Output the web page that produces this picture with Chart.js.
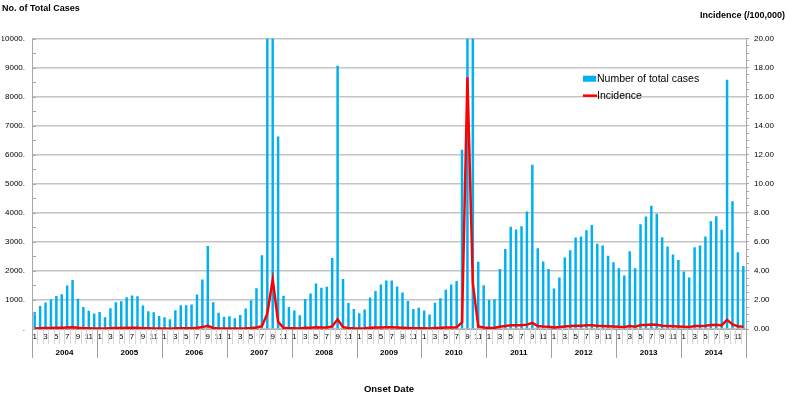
<!DOCTYPE html>
<html>
<head>
<meta charset="utf-8">
<script src="https://cdn.jsdelivr.net/npm/chart.js@4.4.1/dist/chart.umd.min.js"></script>
<style>
  html, body { margin: 0; padding: 0; background: #fff; }
</style>
</head>
<body>
<canvas id="grafico" width="787" height="395"></canvas>
<script>
// dados (mensal, 2004 a 2014)
var anos = ['2004', '2005', '2006', '2007', '2008', '2009', '2010', '2011', '2012', '2013', '2014'];
var meses = ['1', '2', '3', '4', '5', '6', '7', '8', '9', '10', '11', '12'];
var rotulosMes = ['1', '', '3', '', '5', '', '7', '', '9', '', '11', ''];

// número total de casos (barras)
var casos = [
  585, 790, 910, 1015, 1135, 1195, 1500, 1685, 1040, 755, 625, 530,      // 2004
  587, 402, 718, 920, 955, 1098, 1155, 1127, 810, 615, 575, 450,         // 2005
  402, 340, 650, 822, 822, 840, 1190, 1707, 2862, 920, 563, 420,         // 2006
  443, 368, 483, 702, 990, 1402, 2540, 14300, 46300, 6634, 1145, 760,    // 2007
  638, 472, 1035, 1225, 1570, 1420, 1455, 2445, 9070, 1725, 897, 685,    // 2008
  546, 673, 1086, 1310, 1530, 1667, 1667, 1460, 1260, 966, 690, 736,     // 2009
  638, 500, 903, 1058, 1356, 1529, 1655, 6175, 236000, 43000, 2320, 1506, // 2010
  1000, 1023, 2070, 2760, 3519, 3427, 3542, 4048, 5658, 2783, 2323, 2070, // 2011
  1392, 1771, 2461, 2714, 3150, 3185, 3398, 3582, 2938, 2874, 2519, 2300, // 2012
  2093, 1840, 2680, 2093, 3611, 3875, 4243, 3967, 3162, 2841, 2564, 2380, // 2013
  1978, 1771, 2817, 2875, 3185, 3715, 3887, 3415, 8590, 4404, 2645, 2173  // 2014
];

// incidência (/100.000) - linha vermelha
var incidencia = [
  0.04, 0.06, 0.07, 0.07, 0.08, 0.09, 0.11, 0.12, 0.08, 0.06, 0.05, 0.04,
  0.04, 0.03, 0.05, 0.07, 0.07, 0.08, 0.08, 0.08, 0.06, 0.05, 0.04, 0.03,
  0.03, 0.02, 0.05, 0.06, 0.06, 0.06, 0.09, 0.13, 0.22, 0.07, 0.04, 0.03,
  0.03, 0.03, 0.04, 0.05, 0.07, 0.10, 0.19, 1.05, 3.40, 0.49, 0.08, 0.06,
  0.05, 0.03, 0.08, 0.09, 0.12, 0.10, 0.11, 0.18, 0.67, 0.13, 0.07, 0.05,
  0.04, 0.05, 0.08, 0.10, 0.11, 0.12, 0.12, 0.11, 0.09, 0.07, 0.05, 0.05,
  0.05, 0.04, 0.07, 0.08, 0.10, 0.11, 0.12, 0.45, 17.35, 3.16, 0.17, 0.11,
  0.07, 0.08, 0.15, 0.20, 0.26, 0.25, 0.26, 0.30, 0.42, 0.20, 0.17, 0.15,
  0.10, 0.13, 0.18, 0.20, 0.23, 0.23, 0.25, 0.26, 0.22, 0.21, 0.19, 0.17,
  0.15, 0.14, 0.20, 0.15, 0.27, 0.28, 0.31, 0.29, 0.23, 0.21, 0.19, 0.17,
  0.15, 0.13, 0.21, 0.21, 0.23, 0.27, 0.29, 0.25, 0.63, 0.32, 0.19, 0.16
];

var categorias = [];
anos.forEach(function (a) {
  meses.forEach(function (m) { categorias.push(a + '-' + m); });
});

var fonte = "'Liberation Sans', Arial, sans-serif";
var corGrade = '#c4c4c4';
var corEixo = '#a8a8a8';

// marcas dos eixos, divisões de mês/ano e legenda
var extras = {
  id: 'extras',
  afterDraw: function (chart) {
    var ctx = chart.ctx;
    var area = chart.chartArea;
    var x = chart.scales.x;
    var y = chart.scales.y;
    ctx.save();
    ctx.lineWidth = 1;

    // marcas do eixo esquerdo (para dentro)
    ctx.strokeStyle = corEixo;
    y.ticks.forEach(function (t) {
      var py = Math.round(y.getPixelForValue(t.value)) + 0.5;
      ctx.beginPath();
      ctx.moveTo(area.left, py);
      ctx.lineTo(area.left + 4, py);
      ctx.stroke();
    });

    // divisões no eixo x
    var n = categorias.length;
    for (var i = 0; i <= n; i++) {
      var px;
      if (i === 0) px = area.left;
      else if (i === n) px = area.right;
      else px = (x.getPixelForValue(i - 1) + x.getPixelForValue(i)) / 2;
      px = Math.round(px) + 0.5;
      var ano = i % 12 === 0;
      ctx.strokeStyle = ano ? '#a0a0a0' : '#d4d4d4';
      ctx.beginPath();
      ctx.moveTo(px, area.bottom);
      ctx.lineTo(px, area.bottom + (ano ? 29 : 15));
      ctx.stroke();
    }

    // legenda
    var ds = chart.data.datasets;
    var lx = area.left + 551;
    var ly = area.top + 40;
    ctx.font = '10.5px ' + fonte;
    ctx.textBaseline = 'middle';
    ctx.fillStyle = ds[0].backgroundColor;
    ctx.fillRect(lx, ly - 3, 13, 6);
    ctx.fillStyle = '#000';
    ctx.fillText(ds[0].label, lx + 14, ly);
    ctx.strokeStyle = ds[1].borderColor;
    ctx.lineWidth = 2.5;
    ctx.beginPath();
    ctx.moveTo(lx, ly + 17);
    ctx.lineTo(lx + 14, ly + 17);
    ctx.stroke();
    ctx.fillStyle = '#000';
    ctx.fillText(ds[1].label, lx + 14, ly + 17);
    ctx.restore();
  }
};

var ctx = document.getElementById('grafico').getContext('2d');
var grafico = new Chart(ctx, {
  type: 'bar',
  data: {
    labels: categorias,
    datasets: [
      {
        type: 'bar',
        label: 'Number of total cases',
        data: casos,
        backgroundColor: '#00b0f0',
        barPercentage: 0.5,
        categoryPercentage: 0.92,
        yAxisID: 'y',
        xAxisID: 'x',
        order: 2
      },
      {
        type: 'line',
        label: 'Incidence',
        data: incidencia,
        borderColor: '#ff0000',
        borderWidth: 2.5,
        pointRadius: 0,
        tension: 0,
        fill: false,
        yAxisID: 'y1',
        xAxisID: 'x',
        order: 1
      }
    ]
  },
  options: {
    responsive: false,
    animation: false,
    layout: { padding: { left: 2, right: 2, top: 0, bottom: 0 } },
    plugins: {
      legend: { display: false },
      tooltip: { enabled: false },
      title: {
        display: true,
        text: 'No. of Total Cases',
        align: 'start',
        color: '#000',
        font: { family: fonte, size: 9, weight: 'bold', lineHeight: 0.6 },
        padding: { top: 6, bottom: 0 }
      },
      subtitle: {
        display: true,
        text: 'Incidence (/100,000)',
        align: 'end',
        color: '#000',
        font: { family: fonte, size: 9, weight: 'bold', lineHeight: 1 },
        padding: { top: 0, bottom: 18.3 }
      }
    },
    scales: {
      x: {
        type: 'category',
        position: 'bottom',
        offset: true,
        grid: { display: false, drawTicks: false },
        border: { display: true, color: corEixo },
        ticks: {
          autoSkip: false,
          maxRotation: 0,
          padding: 3.2,
          color: '#000',
          font: { family: fonte, size: 8 },
          callback: function (v, i) { return rotulosMes[i % 12]; }
        },
        afterFit: function (s) { s.height = 18; }
      },
      x2: {
        type: 'category',
        position: 'bottom',
        labels: anos,
        offset: true,
        grid: { display: false, drawTicks: false },
        border: { display: false },
        ticks: {
          autoSkip: false,
          maxRotation: 0,
          padding: 0.7,
          color: '#000',
          font: { family: fonte, size: 8, weight: 'bold' }
        },
        title: {
          display: true,
          text: 'Onset Date',
          color: '#000',
          font: { family: fonte, size: 9.5, weight: 'bold' },
          padding: { top: 0, bottom: 0 }
        },
        afterFit: function (s) { s.height = 48; }
      },
      y: {
        position: 'left',
        min: 0,
        max: 10000,
        grid: {
          drawTicks: false,
          lineWidth: 1.5,
          color: function (c) { return c.tick && c.tick.value % 1000 === 0 ? corGrade : 'rgba(0,0,0,0)'; }
        },
        border: { display: true, color: corEixo },
        ticks: {
          stepSize: 500,
          autoSkip: false,
          padding: 7,
          color: '#000',
          font: { family: fonte, size: 8 },
          callback: function (v) {
            if (v % 1000 !== 0) return '';
            return v === 0 ? '.' : v + '.';
          }
        },
        afterFit: function (s) { s.width = 30; }
      },
      y1: {
        position: 'right',
        min: 0,
        max: 20,
        grid: { drawOnChartArea: false, tickLength: 3, color: corEixo },
        border: { display: true, color: corEixo },
        ticks: {
          stepSize: 0.5,
          autoSkip: false,
          padding: 5,
          color: '#000',
          font: { family: fonte, size: 8 },
          callback: function (v) { return v % 2 === 0 ? v.toFixed(2) : ''; }
        },
        afterFit: function (s) { s.width = 39; }
      }
    }
  },
  plugins: [extras]
});
</script>
</body>
</html>
